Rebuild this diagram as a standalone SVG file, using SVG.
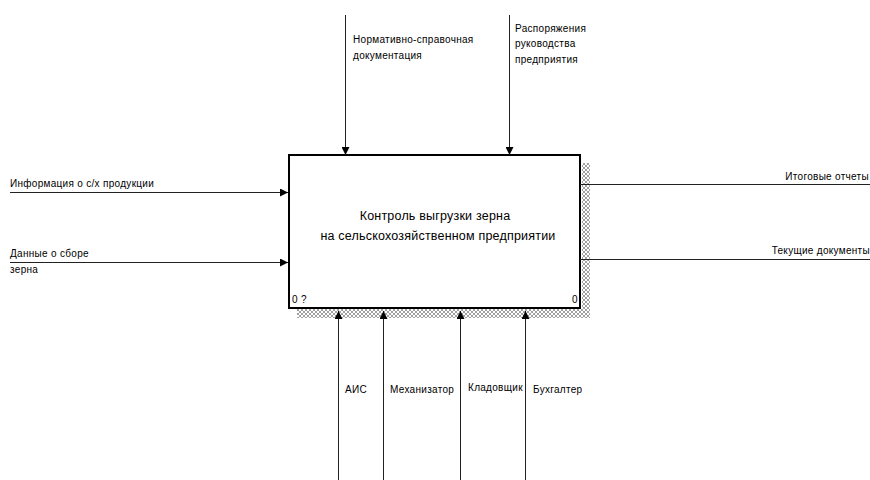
<svg xmlns="http://www.w3.org/2000/svg" width="870" height="480" viewBox="0 0 870 480">
<defs>
<style>
.lbl{font-family:"Liberation Sans",Arial,sans-serif;font-size:10px;letter-spacing:0.3px;fill:#000}
.ttl{font-family:"Liberation Sans",Arial,sans-serif;font-size:12.5px;letter-spacing:0.2px;fill:#000}
.ln{stroke:#222;stroke-width:1;fill:none}
</style>
<pattern id="hatch" width="4" height="4" patternUnits="userSpaceOnUse">
<rect width="4" height="4" fill="#fff"/>
<path d="M0,4 L4,0 M0,0 L4,4" stroke="#8a8a8a" stroke-width="0.8"/>
</pattern>
<marker id="ah" viewBox="0 0 10 10" refX="10" refY="5" markerWidth="8" markerHeight="8" markerUnits="userSpaceOnUse" orient="auto">
<path d="M0,0 L10,5 L0,10 Z" fill="#000"/>
</marker>
</defs>
<rect width="870" height="480" fill="#fff"/>
<g id="node-A0">
<rect x="582" y="163" width="8" height="155" fill="url(#hatch)"/>
<rect x="297" y="309" width="293" height="9" fill="url(#hatch)"/>
<rect x="289" y="155" width="291" height="153" fill="#fff" stroke="#000" stroke-width="2"/>
<text class="ttl" x="435" y="220" text-anchor="middle">Контроль выгрузки зерна</text>
<text class="ttl" x="438" y="240" text-anchor="middle">на сельскохозяйственном предприятии</text>
<text class="lbl" x="292" y="303">0 ?</text>
<text class="lbl" x="575" y="303" text-anchor="middle">0</text>
</g>
<g id="connectors">
<line class="ln" x1="345.5" y1="15" x2="345.5" y2="155" marker-end="url(#ah)"/>
<line class="ln" x1="509.5" y1="15" x2="509.5" y2="155" marker-end="url(#ah)"/>
<line class="ln" x1="10" y1="192.5" x2="288" y2="192.5" marker-end="url(#ah)"/>
<line class="ln" x1="10" y1="262.5" x2="288" y2="262.5" marker-end="url(#ah)"/>
<line class="ln" x1="580" y1="184.5" x2="870" y2="184.5"/>
<line class="ln" x1="580" y1="259.5" x2="870" y2="259.5"/>
<line class="ln" x1="338.5" y1="480" x2="338.5" y2="311" marker-end="url(#ah)"/>
<line class="ln" x1="383.5" y1="480" x2="383.5" y2="311" marker-end="url(#ah)"/>
<line class="ln" x1="460.5" y1="480" x2="460.5" y2="311" marker-end="url(#ah)"/>
<line class="ln" x1="525.5" y1="480" x2="525.5" y2="311" marker-end="url(#ah)"/>
</g>
<g id="labels">
<text class="lbl" x="353" y="43">Нормативно-справочная</text>
<text class="lbl" x="353" y="59">документация</text>
<text class="lbl" x="515" y="32">Распоряжения</text>
<text class="lbl" x="515" y="47">руководства</text>
<text class="lbl" x="515" y="63">предприятия</text>
<text class="lbl" x="10" y="187">Информация о с/х  продукции</text>
<text class="lbl" x="10" y="257">Данные о сборе</text>
<text class="lbl" x="10" y="273">зерна</text>
<text class="lbl" x="869" y="180" text-anchor="end">Итоговые отчеты</text>
<text class="lbl" x="870" y="254" text-anchor="end">Текущие документы</text>
<text class="lbl" x="345" y="393">АИС</text>
<text class="lbl" x="390" y="393">Механизатор</text>
<text class="lbl" x="468" y="391">Кладовщик</text>
<text class="lbl" x="533" y="393">Бухгалтер</text>
</g>
</svg>
